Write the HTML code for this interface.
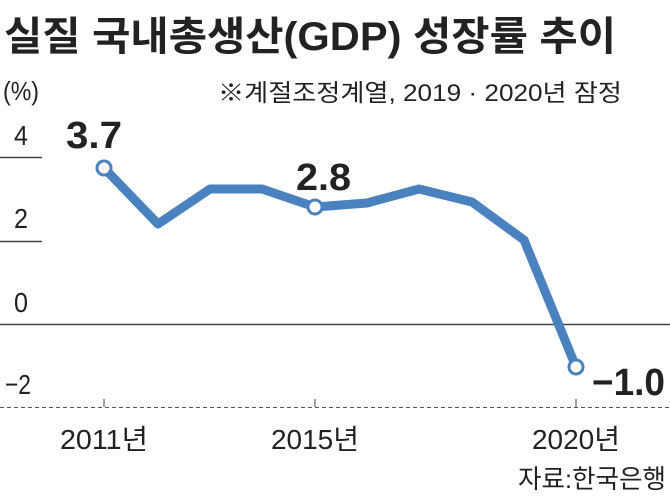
<!DOCTYPE html>
<html><head><meta charset="utf-8"><style>
body{margin:0;background:#fff;}
svg text{font-family:"Liberation Sans","Noto Sans CJK KR",sans-serif;}
</style></head><body>
<svg width="670" height="497" viewBox="0 0 670 497" xmlns="http://www.w3.org/2000/svg">
<rect width="670" height="497" fill="#fff"/>
<text x="4" y="50" font-size="40" font-weight="bold" fill="#222" textLength="612" lengthAdjust="spacingAndGlyphs">실질 국내총생산(GDP) 성장률 추이</text>
<text x="3" y="100" font-size="26" fill="#222" textLength="36" lengthAdjust="spacingAndGlyphs">(%)</text>
<text x="218" y="101" font-size="24" fill="#222" textLength="404" lengthAdjust="spacingAndGlyphs">※계절조정계열, 2019 · 2020년 잠정</text>
<g font-size="28" fill="#222" text-anchor="middle">
<text x="21" y="145" textLength="14" lengthAdjust="spacingAndGlyphs">4</text>
<text x="21" y="228" textLength="14" lengthAdjust="spacingAndGlyphs">2</text>
<text x="21" y="312" textLength="14" lengthAdjust="spacingAndGlyphs">0</text>
<text x="18" y="394" textLength="26" lengthAdjust="spacingAndGlyphs">−2</text>
</g>
<line x1="0" y1="157.5" x2="42" y2="157.5" stroke="#444" stroke-width="1.5"/>
<line x1="0" y1="241.5" x2="42" y2="241.5" stroke="#444" stroke-width="1.5"/>
<line x1="0" y1="324.5" x2="670" y2="324.5" stroke="#444" stroke-width="1.5"/>
<line x1="0" y1="407.5" x2="670" y2="407.5" stroke="#555" stroke-width="1" stroke-dasharray="4,3"/>
<g stroke="#444" stroke-width="1">
<line x1="104" y1="399" x2="104" y2="407"/>
<line x1="315" y1="399" x2="315" y2="407"/>
<line x1="576" y1="399" x2="576" y2="407"/>
</g>
<polyline points="104,168 158,224 210,189 262,189 315,207 367,203 419,189 472,202 524,240 576,367" fill="none" stroke="#4a82bf" stroke-width="9" stroke-linejoin="round"/>
<g fill="#fff" stroke="#4a82bf" stroke-width="3">
<circle cx="104" cy="168" r="7"/>
<circle cx="315" cy="207" r="7"/>
<circle cx="576" cy="367" r="7"/>
</g>
<g font-size="38" font-weight="bold" fill="#222">
<text x="66" y="148" textLength="56" lengthAdjust="spacingAndGlyphs">3.7</text>
<text x="296" y="190" textLength="55" lengthAdjust="spacingAndGlyphs">2.8</text>
<text x="592" y="395" textLength="73" lengthAdjust="spacingAndGlyphs">−1.0</text>
</g>
<g font-size="28" fill="#222" text-anchor="middle">
<text x="104" y="449" textLength="88" lengthAdjust="spacingAndGlyphs">2011년</text>
<text x="315" y="449" textLength="88" lengthAdjust="spacingAndGlyphs">2015년</text>
<text x="576" y="449" textLength="88" lengthAdjust="spacingAndGlyphs">2020년</text>
</g>
<text x="666" y="488" font-size="26" fill="#222" text-anchor="end" textLength="148" lengthAdjust="spacingAndGlyphs">자료:한국은행</text>
</svg>
</body></html>
